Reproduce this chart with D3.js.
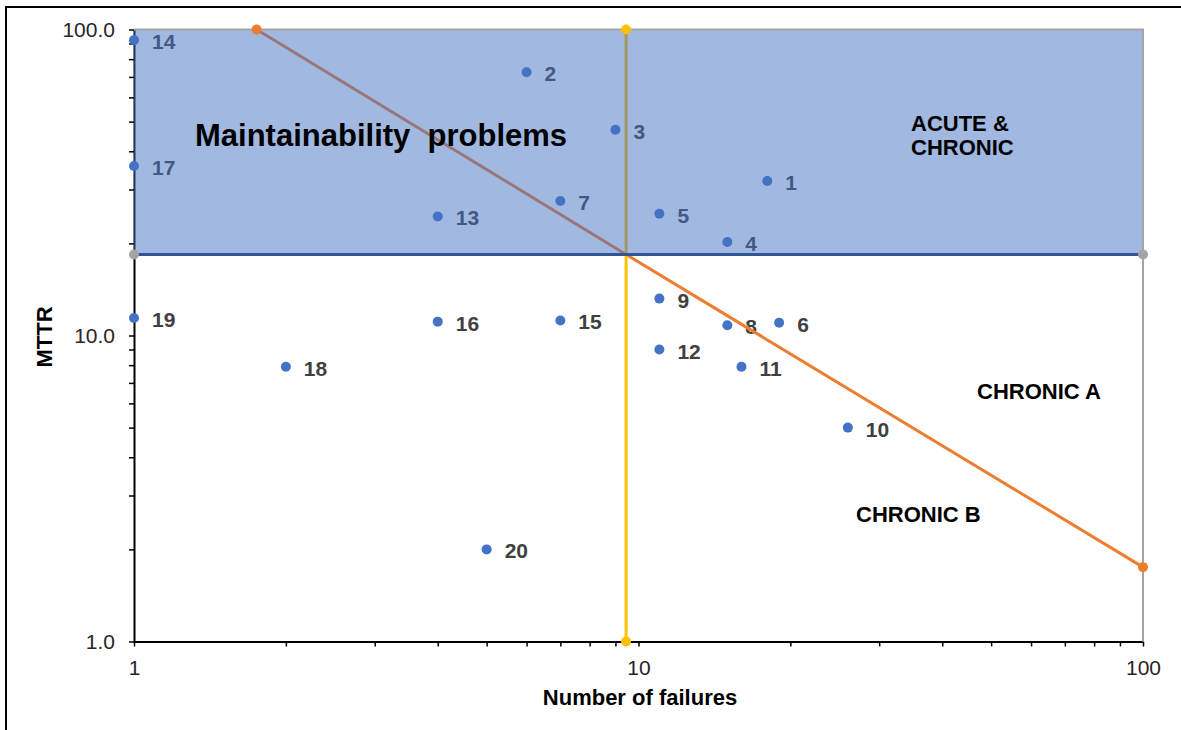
<!DOCTYPE html>
<html>
<head>
<meta charset="utf-8">
<script src="https://cdn.jsdelivr.net/npm/d3@7"></script>
<style>
	body { margin: 0; background: #fff; }
	svg { display: block; font-family: "Liberation Sans", Arial, sans-serif; }
</style>
</head>
<body>
<main></main>
<script>
// DATA
// equipment id, number of failures and MTTR
const ids = ["1","2","3","4","5","6","7","8","9","10","11","12","13","14","15","16","17","18","19","20"];
const failures = [18, 6, 9, 15, 11, 19, 7, 15, 11, 26, 16, 11, 4, 1, 7, 4, 1, 2, 1, 5];
const mttr = [32, 72.5, 47, 20.2, 25, 11, 27.5, 10.8, 13.2, 5, 7.9, 9, 24.5, 92.3, 11.2, 11.1, 35.8, 7.9, 11.4, 2];

// limits
const limitFailures = 9.45;
const limitMttr = 18.4;
const limitLineX = [1.75, 9.45, 100];
const limitLineY = [100, 18.4, 1.75];

// axis ticks
const xTickLabels = [1, 10, 100];
const yTickLabels = [1, 10, 100];



// CHART
const w = 1181;
const h = 730;

const svg = d3.select("main").append("svg")
	.attr("width", w)
	.attr("height", h);

svg.append("rect").attr("width", w).attr("height", h).attr("fill", "#fff");

// frame
svg.append("path")
	.attr("d", `M6,${h} L6,7 L${w},7`)
	.attr("fill", "none")
	.attr("stroke", "#000")
	.attr("stroke-width", 2);

// scales
const xScale = d3.scaleLog().domain([1, 100]).range([134, 1143]);
const yScale = d3.scaleLog().domain([1, 100]).range([641.5, 29.5]);

// axes
const xAxis = d3.axisBottom(xScale)
	.tickValues(xScale.ticks())
	.tickFormat(d => xTickLabels.includes(d) ? d3.format("d")(d) : "")
	.tickSize(5)
	.tickSizeOuter(0)
	.tickPadding(14);
const gx = svg.append("g")
	.attr("transform", `translate(0, ${yScale(1)})`)
	.call(xAxis);

const yAxis = d3.axisLeft(yScale)
	.tickValues(yScale.ticks())
	.tickFormat(d => yTickLabels.includes(d) ? d3.format(".1f")(d) : "")
	.tickSize(5)
	.tickSizeOuter(0)
	.tickPadding(14);
const gy = svg.append("g")
	.attr("transform", `translate(${xScale(1)}, 0)`)
	.call(yAxis);

[gx, gy].forEach(g => {
	g.select(".domain").attr("stroke", "#000").attr("stroke-width", 2);
	g.selectAll(".tick line").attr("stroke", "#000").attr("stroke-width", 1.5);
	g.selectAll(".tick text")
		.attr("fill", "#262626")
		.style("font-size", "21px")
		.style("font-family", "'Liberation Sans', Arial, sans-serif");
});

// axis titles
svg.append("text")
	.attr("x", 640)
	.attr("y", 705)
	.attr("text-anchor", "middle")
	.style("font-size", "22px")
	.style("font-weight", "bold")
	.text("Number of failures");
svg.append("text")
	.attr("transform", "translate(52, 337) rotate(-90)")
	.attr("text-anchor", "middle")
	.style("font-size", "22px")
	.style("font-weight", "bold")
	.text("MTTR");

// points
const points = ids.map((id, i) => ({ id, x: failures[i], y: mttr[i] }));
svg.append("g").selectAll("circle")
	.data(points)
	.enter()
	.append("circle")
		.attr("cx", d => xScale(d.x))
		.attr("cy", d => yScale(d.y))
		.attr("r", 5)
		.attr("fill", "#4472c4");
svg.append("g").selectAll("text")
	.data(points)
	.enter()
	.append("text")
		.attr("x", d => xScale(d.x) + 18)
		.attr("y", d => yScale(d.y) + 9)
		.attr("fill", "#404040")
		.style("font-size", "21px")
		.style("font-weight", "bold")
		.text(d => d.id);

// limit lines (drawn under the shaded area)
const line = d3.line().x(d => xScale(d[0])).y(d => yScale(d[1]));
const diag = limitLineX.map((v, i) => [v, limitLineY[i]]);
svg.append("path")
	.attr("d", line(diag))
	.attr("fill", "none")
	.attr("stroke", "#ed7d31")
	.attr("stroke-width", 3);
svg.append("path")
	.attr("d", line([[limitFailures, 1], [limitFailures, 100]]))
	.attr("fill", "none")
	.attr("stroke", "#ffc000")
	.attr("stroke-width", 3);

// shaded area: MTTR above the limit
svg.append("rect")
	.attr("x", xScale(1))
	.attr("y", yScale(100))
	.attr("width", xScale(100) - xScale(1))
	.attr("height", yScale(limitMttr) - yScale(100))
	.attr("fill", "#4472c4")
	.attr("fill-opacity", 0.5);

// border lines
svg.append("path")
	.attr("d", line([[1, 100], [100, 100], [100, 1]]))
	.attr("fill", "none")
	.attr("stroke", "#a5a5a5")
	.attr("stroke-width", 2);
svg.append("path")
	.attr("d", line([[1, limitMttr], [100, limitMttr]]))
	.attr("fill", "none")
	.attr("stroke", "#2f5597")
	.attr("stroke-width", 3);

// line markers
const markers = [
	{ x: diag[0][0], y: diag[0][1], c: "#ed7d31" },
	{ x: diag[2][0], y: diag[2][1], c: "#ed7d31" },
	{ x: limitFailures, y: 100, c: "#ffc000" },
	{ x: limitFailures, y: 1, c: "#ffc000" },
	{ x: 1, y: limitMttr, c: "#a5a5a5" },
	{ x: 100, y: limitMttr, c: "#a5a5a5" }
];
svg.append("g").selectAll("circle")
	.data(markers)
	.enter()
	.append("circle")
		.attr("cx", d => xScale(d.x))
		.attr("cy", d => yScale(d.y))
		.attr("r", 5)
		.attr("fill", d => d.c);

// zone labels
svg.append("text")
	.attr("x", 195)
	.attr("y", 146)
	.style("font-size", "31px")
	.style("font-weight", "bold")
	.style("white-space", "pre")
	.text("Maintainability  problems");

const zone = [
	{ t: "ACUTE &", x: 911, y: 131 },
	{ t: "CHRONIC", x: 911, y: 155 },
	{ t: "CHRONIC A", x: 977, y: 399 },
	{ t: "CHRONIC B", x: 856, y: 522 }
];
svg.append("g").selectAll("text")
	.data(zone)
	.enter()
	.append("text")
		.attr("x", d => d.x)
		.attr("y", d => d.y)
		.style("font-size", "22px")
		.style("font-weight", "bold")
		.text(d => d.t);
</script>
</body>
</html>
